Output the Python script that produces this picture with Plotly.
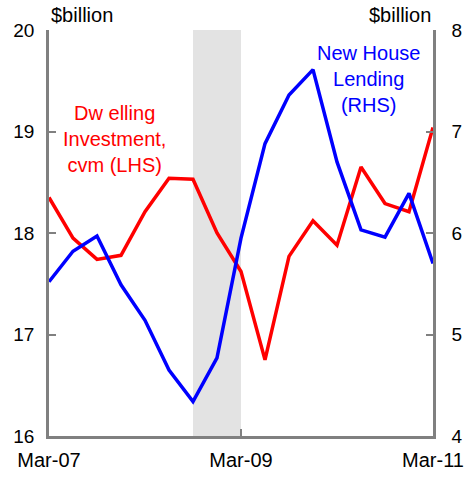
import plotly.graph_objects as go

quarters = ["Mar-07","Jun-07","Sep-07","Dec-07","Mar-08","Jun-08","Sep-08","Dec-08",
            "Mar-09","Jun-09","Sep-09","Dec-09","Mar-10","Jun-10","Sep-10","Dec-10","Mar-11"]
dwelling = [18.35, 17.95, 17.74, 17.78, 18.21, 18.54, 18.53, 18.0, 17.62, 16.75,
            17.77, 18.12, 17.88, 18.65, 18.29, 18.21, 19.04]
lending = [5.52, 5.82, 5.97, 5.49, 5.14, 4.65, 4.34, 4.77, 5.95, 6.88,
           7.36, 7.61, 6.70, 6.03, 5.96, 6.39, 5.70]
tick_labels = ["Mar-07", "Mar-09", "Mar-11"]
recession = ["Sep-08", "Mar-09"]

xi = list(range(len(quarters)))
FONT = "Liberation Sans"
GRAY = "#808080"

fig = go.Figure()
fig.add_trace(go.Scatter(x=xi, y=dwelling, mode="lines",
                         line=dict(color="#ff0000", width=3.5), yaxis="y"))
fig.add_trace(go.Scatter(x=xi, y=lending, mode="lines",
                         line=dict(color="#0000ff", width=3.5), yaxis="y2"))

fig.add_shape(type="rect", xref="x", yref="paper",
              x0=quarters.index(recession[0]), x1=quarters.index(recession[1]),
              y0=0, y1=1, fillcolor="#e3e3e3", line_width=0, layer="below")

fig.update_layout(
    width=470, height=478,
    margin=dict(l=49, r=37, t=30, b=42, autoexpand=False),
    plot_bgcolor="white", paper_bgcolor="white",
    showlegend=False,
    font=dict(family=FONT, size=20, color="black"),
    xaxis=dict(range=[0, 16], showline=True, linecolor=GRAY, linewidth=2.5,
               ticks="inside", ticklen=7, tickwidth=2, tickcolor=GRAY,
               tickvals=[quarters.index(t) for t in tick_labels], ticktext=tick_labels,
               showgrid=False, zeroline=False, ticklabelstandoff=4,
               tickfont=dict(size=20), automargin=False),
    yaxis=dict(range=[16, 20], showline=True, linecolor=GRAY, linewidth=2.5,
               ticks="inside", ticklen=7, tickwidth=2, tickcolor=GRAY,
               dtick=1, showgrid=False, zeroline=False, ticklabelstandoff=8,
               tickfont=dict(size=19), automargin=False),
    yaxis2=dict(range=[4, 8], overlaying="y", side="right", showline=True,
                linecolor=GRAY, linewidth=2.5, ticks="inside", ticklen=7,
                tickwidth=2, tickcolor=GRAY, dtick=1, showgrid=False,
                zeroline=False, ticklabelstandoff=12, tickfont=dict(size=19),
                automargin=False),
)

fig.add_annotation(text="$billion", xref="paper", yref="paper", x=0, y=1.036,
                   xanchor="left", yanchor="middle", showarrow=False)
fig.add_annotation(text="$billion", xref="paper", yref="paper", x=1, y=1.036,
                   xanchor="right", yanchor="middle", showarrow=False)
fig.add_annotation(text="Dw elling<br>Investment,<br>cvm (LHS)", xref="x", yref="y",
                   x=2.73, y=18.93, showarrow=False, font=dict(color="#ff0000"))
fig.add_annotation(text="New House<br>Lending<br>(RHS)", xref="x", yref="y2",
                   x=13.33, y=7.52, showarrow=False, font=dict(color="#0000ff"))

fig.write_html("out.html", config={"displayModeBar": False},
               post_script="document.body.style.margin='0';document.body.style.overflow='hidden';")
